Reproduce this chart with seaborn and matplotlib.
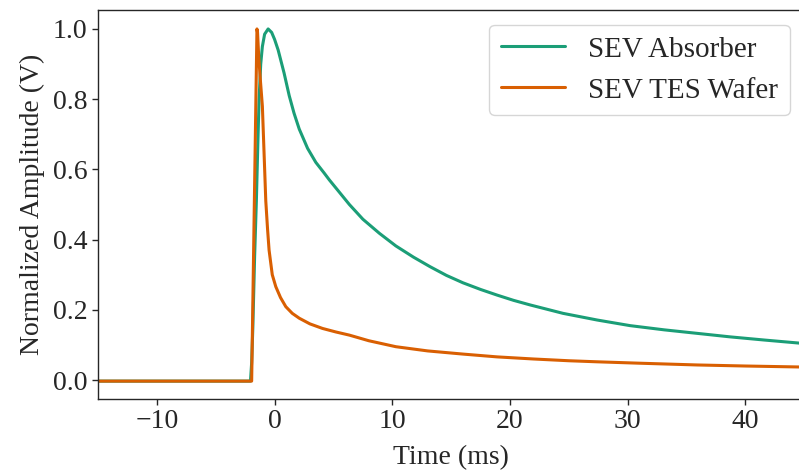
import matplotlib
matplotlib.use('Agg')
import matplotlib.pyplot as plt
import pandas as pd
import seaborn as sns

# Values (time in ms, normalized amplitude)
absorber_time = [-15.0, -2.05, -1.95, -1.85, -1.7, -1.55, -1.42, -1.32, -1.18, -1.04,
                 -0.85, -0.55, -0.25, 0.0, 0.3, 0.8, 1.24, 1.65, 2.09, 2.8, 3.5, 4.2,
                 4.65, 5.5, 6.35, 7.5, 8.9, 10.3, 11.8, 13.2, 14.6, 16.0, 17.5, 18.9,
                 20.3, 21.7, 24.5, 27.4, 30.2, 33.1, 35.9, 38.7, 41.6, 45.0]
absorber_amp = [-0.003, -0.003, 0.05, 0.15, 0.35, 0.51, 0.68, 0.80, 0.90, 0.95,
                0.985, 1.0, 0.99, 0.97, 0.94, 0.875, 0.81, 0.76, 0.715, 0.66, 0.62, 0.59,
                0.57, 0.535, 0.50, 0.458, 0.418, 0.382, 0.35, 0.323, 0.298, 0.277, 0.258, 0.242,
                0.227, 0.214, 0.19, 0.171, 0.155, 0.143, 0.133, 0.123, 0.114, 0.104]

wafer_time = [-15.0, -1.95, -1.5, -1.45, -1.35, -1.2, -1.04, -0.9, -0.75, -0.6,
              -0.47, -0.2, 0.1, 0.5, 0.95, 1.5, 2.1, 3.0, 4.07, 5.2, 6.35, 8.0,
              10.3, 13.0, 16.0, 18.9, 22.0, 25.0, 27.4, 31.0, 35.9, 40.0, 45.0]
wafer_amp = [-0.003, -0.003, 1.0, 0.99, 0.92, 0.85, 0.78, 0.65, 0.51, 0.43,
             0.37, 0.30, 0.266, 0.235, 0.209, 0.19, 0.176, 0.16, 0.147, 0.137, 0.128, 0.112,
             0.095, 0.083, 0.074, 0.066, 0.060, 0.055, 0.052, 0.048, 0.043, 0.040, 0.037]

SERIES = ['SEV Absorber', 'SEV TES Wafer']
COLORS = ['#1b9e77', '#d95f02']

sns.set_style('ticks')
plt.rcParams['font.family'] = ['Liberation Serif', 'DejaVu Serif']
plt.rcParams['font.size'] = 20

df = pd.concat([
    pd.DataFrame({'time': absorber_time, 'amp': absorber_amp, 'series': SERIES[0]}),
    pd.DataFrame({'time': wafer_time, 'amp': wafer_amp, 'series': SERIES[1]}),
])

fig = plt.figure(figsize=(7.99, 4.73), dpi=100)
ax = fig.add_axes([0.1227, 0.1564, 0.884, 0.8225])

sns.lineplot(data=df, x='time', y='amp', hue='series', hue_order=SERIES,
             palette=COLORS, estimator=None, sort=False, linewidth=2.2, ax=ax)

ax.set_xlim(-15, 45)
ax.set_ylim(-0.054, 1.054)
ax.set_xticks([-10, 0, 10, 20, 30, 40])
ax.set_yticks([0.0, 0.2, 0.4, 0.6, 0.8, 1.0])
ax.set_xlabel('Time (ms)', fontsize=20, labelpad=8)
ax.set_ylabel('Normalized Amplitude (V)', fontsize=20, labelpad=6)
ax.tick_params(labelsize=20, length=4, width=1, color='0.15')
for spine in ax.spines.values():
    spine.set_visible(True)
    spine.set_linewidth(1.0)

leg = ax.legend(loc='upper right', fontsize=21, handlelength=2.2, title=None)

fig.savefig('out.png', dpi=100)
